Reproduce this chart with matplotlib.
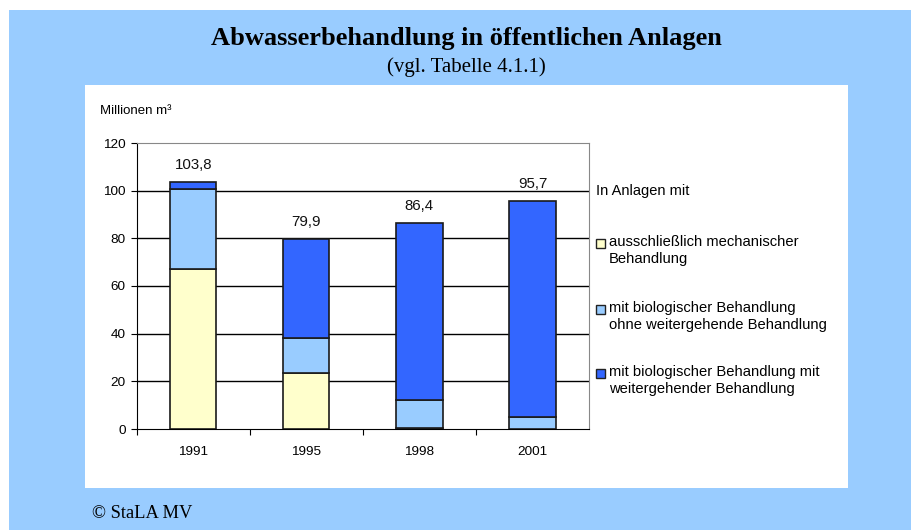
import matplotlib
matplotlib.use("Agg")
import matplotlib.pyplot as plt
from matplotlib.patches import Rectangle

years = ["1991", "1995", "1998", "2001"]
mech = [67.1, 23.5, 0.6, 0.2]
bio = [33.6, 14.7, 11.6, 5.0]
adv = [3.1, 41.7, 74.2, 90.5]
totals = ["103,8", "79,9", "86,4", "95,7"]
series_labels = ["ausschließlich mechanischer\nBehandlung",
                 "mit biologischer Behandlung\nohne weitergehende Behandlung",
                 "mit biologischer Behandlung mit\nweitergehender Behandlung"]
colors = ["#FFFFCC", "#99CCFF", "#3366FF"]
yticks = [0, 20, 40, 60, 80, 100, 120]

W, H = 912, 530
fig = plt.figure(figsize=(W / 100, H / 100), dpi=100)
fig.patch.set_facecolor("white")

def px(x0, y0, x1, y1):
    return [x0 / W, 1 - y1 / H, (x1 - x0) / W, (y1 - y0) / H]

# backgrounds
fig.patches.append(Rectangle((9 / W, 0), 1 - 9 / W, 1 - 10 / H, transform=fig.transFigure,
                             facecolor="#99CCFF", edgecolor="none", zorder=-10))
fig.patches.append(Rectangle((85 / W, 1 - 488 / H), (848 - 85) / W, (488 - 85) / H,
                             transform=fig.transFigure, facecolor="white", edgecolor="none", zorder=-9))

serif = ["Liberation Serif", "DejaVu Serif"]
sans = ["Liberation Sans", "DejaVu Sans"]
fig.text(466 / W, 1 - 38 / H, "Abwasserbehandlung in öffentlichen Anlagen", family=serif,
         fontsize=19, fontweight="bold", ha="center", va="center")
fig.text(466 / W, 1 - 67 / H, "(vgl. Tabelle 4.1.1)", family=serif, fontsize=15,
         ha="center", va="center")
fig.text(92 / W, 1 - 514 / H, "© StaLA MV", family=serif, fontsize=13.3, ha="left", va="center")
fig.text(100 / W, 1 - 111 / H, "Millionen m³", family=sans, fontsize=9.5, ha="left", va="center")

ax = fig.add_axes(px(136.7, 143, 589, 429))
ax.set_facecolor("white")
x = list(range(len(years)))
bw = 0.41
bottom2 = [a + b for a, b in zip(mech, bio)]
kw = dict(width=bw, edgecolor="#1a1a1a", linewidth=1.2, zorder=3)
ax.bar(x, mech, color=colors[0], **kw)
ax.bar(x, bio, bottom=mech, color=colors[1], **kw)
ax.bar(x, adv, bottom=bottom2, color=colors[2], **kw)

for i in x:
    top = bottom2[i] + adv[i]
    ax.annotate(totals[i], (i, top), xytext=(0, 12), textcoords="offset points",
                ha="center", va="center", family=sans, fontsize=10.8, color="#111111")

ax.set_xlim(-0.5, len(years) - 0.5)
ax.set_ylim(0, 120)
ax.set_yticks(yticks)
ax.set_yticklabels([str(v) for v in yticks], family=sans, fontsize=9.7)
for v in yticks[1:-1]:
    ax.axhline(v, color="black", linewidth=1.0, zorder=1)
ax.set_xticks([i + 0.5 for i in x[:-1]] + [-0.5], minor=False)
ax.set_xticklabels([""] * len(x))
ax.set_xticks(x, minor=True)
ax.set_xticklabels(years, minor=True, family=sans, fontsize=9.7)
ax.tick_params(axis="x", which="minor", length=0, pad=12)
ax.tick_params(axis="x", which="major", length=4, direction="out", color="black")
ax.tick_params(axis="y", length=4, direction="out", pad=4)
for s in ["top", "right"]:
    ax.spines[s].set_color("#888888")
for s in ["left", "bottom"]:
    ax.spines[s].set_color("black")

# legend
fig.text(596 / W, 1 - 191 / H, "In Anlagen mit", family=sans, fontsize=10.5, ha="left", va="center")
ys = [243, 309, 373]
for c, lab, yy in zip(colors, series_labels, ys):
    fig.patches.append(Rectangle((596 / W, 1 - (yy + 4.5) / H), 9 / W, 9 / H,
                                 transform=fig.transFigure, facecolor=c,
                                 edgecolor="#222222", linewidth=1.0, zorder=3))
    fig.text(609 / W, 1 - (yy - 8) / H, lab, family=sans, fontsize=10.6, ha="left",
             va="top", linespacing=1.3)

fig.savefig("out.png", dpi=100)
